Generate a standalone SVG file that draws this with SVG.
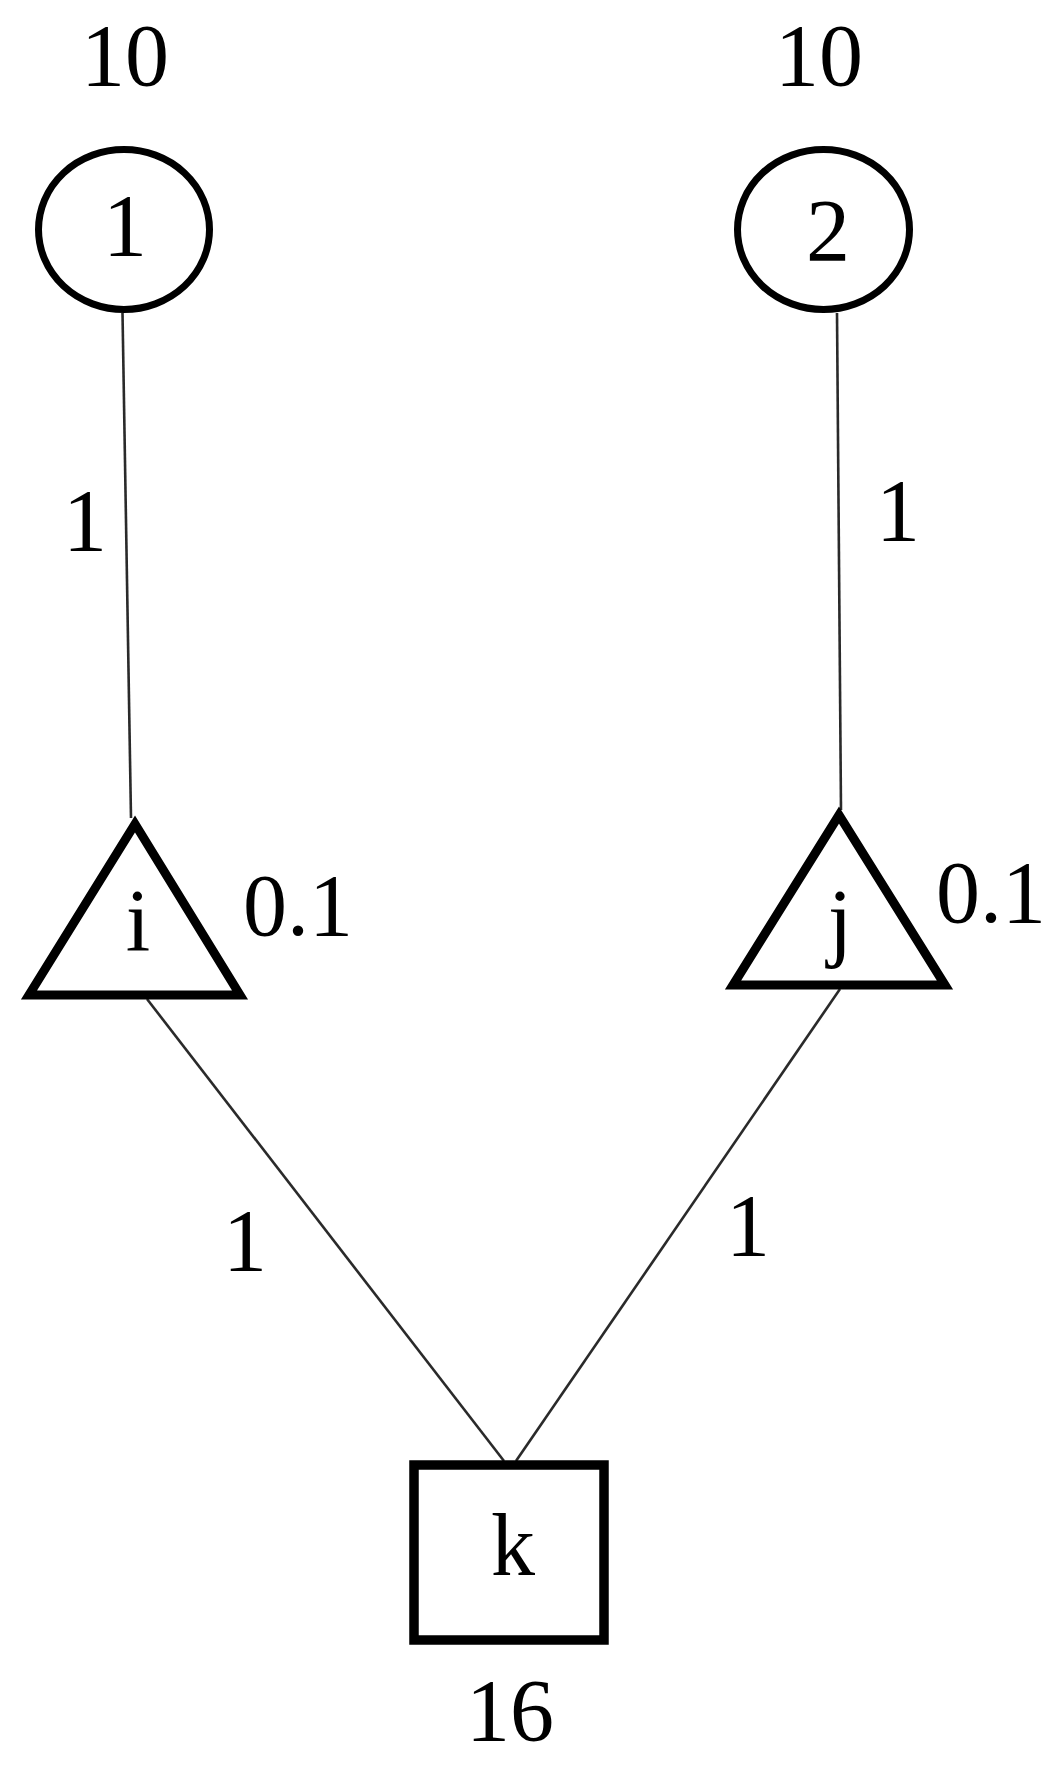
<svg xmlns="http://www.w3.org/2000/svg" width="1060" height="1769" viewBox="0 0 1060 1769">
<style>
.t{font-family:"Liberation Serif","Times New Roman",serif;font-size:88px;fill:#000}
.m{text-anchor:middle}
.node{fill:#fff;stroke:#000}
.edge{stroke:#2a2a2a;stroke-width:2.6;fill:none}
</style>
<rect width="1060" height="1769" fill="#fff"/>
<g id="connectors">
<line class="edge" x1="122.5" y1="313" x2="131" y2="818"/>
<line class="edge" x1="837" y1="313" x2="841" y2="810"/>
<line class="edge" x1="147" y1="999" x2="504" y2="1461"/>
<line class="edge" x1="840" y1="989" x2="516" y2="1461"/>
<text class="t m" x="85" y="550">1</text>
<text class="t m" x="898" y="540">1</text>
<text class="t m" x="245" y="1270">1</text>
<text class="t m" x="748" y="1255">1</text>
</g>
<g id="node1">
<ellipse class="node" cx="124" cy="229.5" rx="85.5" ry="80" stroke-width="7"/>
<text class="t m" x="125" y="255">1</text>
<text class="t m" x="125" y="85">10</text>
</g>
<g id="node2">
<ellipse class="node" cx="823.5" cy="229.5" rx="86" ry="80" stroke-width="7"/>
<text class="t m" x="828" y="260">2</text>
<text class="t m" x="819" y="85">10</text>
</g>
<g id="nodei">
<polygon class="node" points="29,995 240,995 135,824" stroke-width="9" stroke-linejoin="miter"/>
<text class="t m" x="138" y="950">i</text>
<text class="t" x="243" y="935">0.1</text>
</g>
<g id="nodej">
<polygon class="node" points="733,985 945,985 839,815" stroke-width="9" stroke-linejoin="miter"/>
<text class="t m" x="840" y="950">j</text>
<text class="t" x="936" y="922">0.1</text>
</g>
<g id="nodek">
<rect class="node" x="414" y="1465" width="190" height="175" stroke-width="9.5"/>
<text class="t m" x="513" y="1575">k</text>
<text class="t m" x="510" y="1740">16</text>
</g>
</svg>
